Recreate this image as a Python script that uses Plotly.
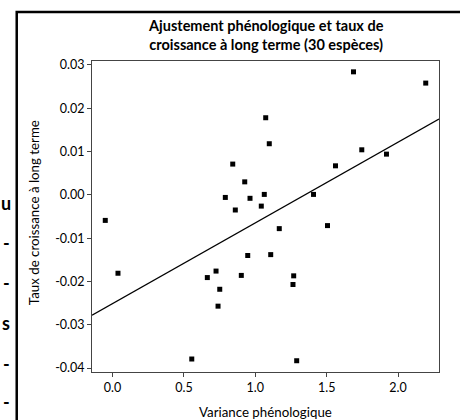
import plotly.graph_objects as go

# Data
variance = [1.073, 1.098, 0.842, 0.926, 0.790, 0.963, 1.063, 1.042, 0.860, -0.051,
            1.168, 1.688, 2.194, 1.746, 1.919, 1.562, 1.408, 1.506, 0.038, 0.947,
            1.108, 0.725, 0.664, 0.902, 1.269, 1.264, 0.751, 0.739, 0.555, 1.290]
growth = [0.0178, 0.0118, 0.0071, 0.0030, -0.0006, -0.0008, 0.0001, -0.0026, -0.0035, -0.0059,
          -0.0078, 0.0284, 0.0258, 0.0104, 0.0094, 0.0067, 0.0001, -0.0071, -0.0181, -0.0140,
          -0.0138, -0.0176, -0.0191, -0.0186, -0.0187, -0.0207, -0.0218, -0.0257, -0.0379, -0.0383]
fit_slope = 0.01863
fit_intercept = -0.0251
x_range = [-0.144, 2.287]
y_range = [-0.0409, 0.0309]
x_ticks = [0.0, 0.5, 1.0, 1.5, 2.0]
x_ticklabels = ["0.0", "0.5", "1.0", "1.5", "2.0"]
y_ticks = [0.03, 0.02, 0.01, 0.00, -0.01, -0.02, -0.03, -0.04]
y_ticklabels = ["0.03", "0.02", "0.01", "0.00", "-0.01", "-0.02", "-0.03", "-0.04"]
title_text = "Ajustement phénologique et taux de<br>croissance à long terme (30 espèces)"
x_title = "Variance phénologique"
y_title = "Taux de croissance à long terme"
side_chars = ["u", "-", "-", "s", "-", "-"]
side_char_px = [203, 243, 283, 323, 364, 402]

W, H = 460, 420
L, R, T, B = 91.7, 20.7, 60.7, 48.3
pw, ph = W - L - R, H - T - B

def px_x(px):
    return (px - L) / pw

def px_y(py):
    return (H - B - py) / ph

FONT = "Lato, 'Open Sans', sans-serif"

fig = go.Figure()
fig.add_trace(go.Scatter(
    x=x_range, y=[fit_intercept + fit_slope * v for v in x_range],
    mode="lines", line=dict(color="black", width=1.4), hoverinfo="skip", showlegend=False))
fig.add_trace(go.Scatter(
    x=variance, y=growth, mode="markers",
    marker=dict(symbol="square", size=5, color="black"), showlegend=False))

annotations = [
    dict(text="<b>" + title_text + "</b>",
         xref="paper", yref="paper", x=0.5, y=px_y(35), xanchor="center", yanchor="middle",
         showarrow=False, font=dict(family=FONT, size=14.5, color="black")),
    dict(text=x_title, xref="paper", yref="paper", x=px_x(265), y=px_y(411.5),
         xanchor="center", yanchor="middle", showarrow=False,
         font=dict(family=FONT, size=13.3, color="black")),
    dict(text=y_title, xref="paper", yref="paper", x=px_x(33), y=px_y(212.5),
         xanchor="center", yanchor="middle", showarrow=False, textangle=-90,
         font=dict(family=FONT, size=13.3, color="black")),
]
for ch, py in zip(side_chars, side_char_px):
    annotations.append(dict(text="<b>" + ch + "</b>", xref="paper", yref="paper",
                            x=px_x(6), y=px_y(py),
                            xanchor="center", yanchor="middle", showarrow=False,
                            font=dict(family=FONT, size=18, color="black")))

fig.update_layout(
    width=W, height=H,
    margin=dict(l=L, r=R, t=T, b=B, pad=0),
    paper_bgcolor="white", plot_bgcolor="white",
    font=dict(family=FONT, size=12.5, color="black"),
    showlegend=False,
    annotations=annotations,
    shapes=[dict(type="rect", xref="paper", yref="paper",
                 x0=px_x(16.3), x1=px_x(700), y0=px_y(700), y1=px_y(11.8),
                 line=dict(color="black", width=2.5), layer="above")],
    xaxis=dict(range=x_range, tickvals=x_ticks, ticktext=x_ticklabels,
               showgrid=False, zeroline=False, showline=True, mirror=True,
               linecolor="#444", linewidth=1, ticks="outside", ticklen=4,
               tickcolor="#444", tickfont=dict(size=12.5)),
    yaxis=dict(range=y_range, tickvals=y_ticks, ticktext=y_ticklabels,
               showgrid=False, zeroline=False, showline=True, mirror=True,
               linecolor="#444", linewidth=1, ticks="outside", ticklen=4,
               tickcolor="#444", tickfont=dict(size=12.5)),
)

fig.write_html("out.html", config={"displayModeBar": False},
               post_script="document.body.style.margin='0';document.body.style.overflow='hidden';")
